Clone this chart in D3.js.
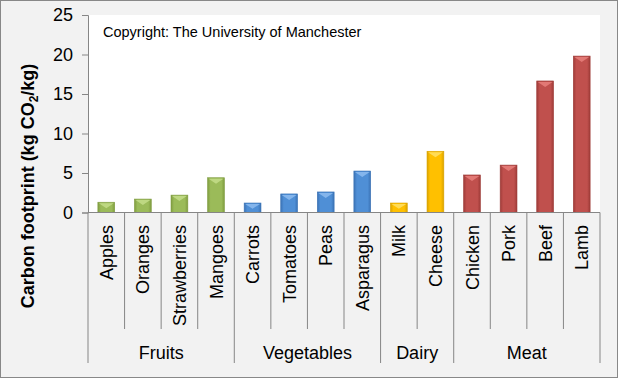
<!DOCTYPE html>
<html><head><meta charset="utf-8">
<script src="https://cdn.jsdelivr.net/npm/d3@7"></script>
<style>
html,body{margin:0;padding:0;background:#fff;}
svg{display:block;font-family:Arial,"Liberation Sans",sans-serif;}
</style></head>
<body>
<svg id="chart" width="618" height="378"></svg>
<script>
const categories = ["Apples","Oranges","Strawberries","Mangoes","Carrots","Tomatoes","Peas","Asparagus","Milk","Cheese","Chicken","Pork","Beef","Lamb"];
const values = [1.3, 1.7, 2.2, 4.4, 1.2, 2.35, 2.6, 5.25, 1.2, 7.75, 4.75, 6.0, 16.65, 19.8];
const groupOf = ["Fruits","Fruits","Fruits","Fruits","Vegetables","Vegetables","Vegetables","Vegetables","Dairy","Dairy","Meat","Meat","Meat","Meat"];
const groups = ["Fruits","Vegetables","Dairy","Meat"];
const groupColors = {Fruits:["#9bbb59","#7f9c3f","#c4dd8a"], Vegetables:["#4f8fd6","#3a72b5","#8dbcf0"], Dairy:["#ffc000","#d9a300","#ffe066"], Meat:["#c0504d","#9e3b38","#e8807d"]};
const yTicks = [0,5,10,15,20,25];

const svg = d3.select("#chart");
const W = 618, H = 378;
const L = 88, R = 600, T = 15, B = 212.5;

svg.append("rect").attr("x",0.5).attr("y",0.5).attr("width",W-1).attr("height",H-1)
  .attr("fill","#f2f2f2").attr("stroke","#888").attr("stroke-width",1);
svg.append("rect").attr("x",L).attr("y",T).attr("width",R-L).attr("height",B-T).attr("fill","#fff");

const x = d3.scaleBand().domain(categories).range([L,R]).paddingInner(0.54).paddingOuter(0.27);
const xb = d3.scaleBand().domain(categories).range([L,R]).padding(0);
const y = d3.scaleLinear().domain([0,25]).range([B,T]);

const defs = svg.append("defs");
groups.forEach((g,i)=>{
  const c = groupColors[g];
  const grad = defs.append("linearGradient").attr("id","g"+i).attr("x1","0").attr("x2","1").attr("y1","0").attr("y2","0");
  grad.append("stop").attr("offset","0%").attr("stop-color",c[1]);
  grad.append("stop").attr("offset","18%").attr("stop-color",c[0]);
  grad.append("stop").attr("offset","82%").attr("stop-color",c[0]);
  grad.append("stop").attr("offset","100%").attr("stop-color",c[1]);
});

const data = categories.map((c,i)=>({c, v:values[i], g:groupOf[i]}));
const bars = svg.append("g");
bars.selectAll("rect").data(data).join("rect")
  .attr("x",d=>x(d.c)).attr("y",d=>y(d.v)).attr("width",x.bandwidth()).attr("height",d=>y(0)-y(d.v))
  .attr("fill",d=>"url(#g"+groups.indexOf(d.g)+")").attr("stroke",d=>groupColors[d.g][1]).attr("stroke-width",0.6);
bars.selectAll("path").data(data).join("path")
  .attr("d",d=>{
    const x0 = x(d.c), w = x.bandwidth(), t = y(d.v);
    const h = Math.min(6, (y(0)-t)*0.6);
    return `M${x0+1},${t+1}L${x0+w-1},${t+1}L${x0+w/2},${t+h}Z`;
  })
  .attr("fill",d=>groupColors[d.g][2]).attr("opacity",0.85);

const yAxis = d3.axisLeft(y).tickValues(yTicks).tickSize(6).tickPadding(9).tickFormat(d3.format("d"));
const ya = svg.append("g").attr("transform",`translate(${L},0)`).call(yAxis);
ya.select(".domain").attr("stroke","#868686");
ya.selectAll(".tick line").attr("stroke","#868686");
ya.selectAll(".tick text").attr("font-size","18px").attr("fill","#000").attr("font-family","Arial, 'Liberation Sans', sans-serif");

svg.append("line").attr("x1",L).attr("x2",R).attr("y1",B).attr("y2",B).attr("stroke","#868686");

const cat = svg.append("g");
categories.forEach((c,i)=>{
  const isGroupEdge = i===0 || groupOf[i]!==groupOf[i-1];
  cat.append("line").attr("x1",xb(c)).attr("x2",xb(c)).attr("y1",B).attr("y2",isGroupEdge?363:329)
    .attr("stroke","#868686");
});
cat.append("line").attr("x1",R).attr("x2",R).attr("y1",B).attr("y2",363).attr("stroke","#868686");

cat.selectAll("text.cl").data(categories).join("text").attr("class","cl")
  .attr("transform",c=>`translate(${xb(c)+xb.bandwidth()/2+6.5},225) rotate(-90)`)
  .attr("text-anchor","end").attr("font-size","18px").attr("fill","#000").text(c=>c);

groups.forEach(g=>{
  const items = categories.filter((c,i)=>groupOf[i]===g);
  const x0 = xb(items[0]), x1 = xb(items[items.length-1])+xb.bandwidth();
  cat.append("text").attr("x",(x0+x1)/2).attr("y",359).attr("text-anchor","middle")
    .attr("font-size","18px").attr("fill","#000").text(g);
});

const yt = svg.append("text").attr("transform","translate(34,186) rotate(-90)")
  .attr("text-anchor","middle").attr("font-size","18px").attr("font-weight","bold").attr("fill","#000");
yt.append("tspan").text("Carbon footprint (kg CO");
yt.append("tspan").attr("font-size","12px").attr("dy","4").text("2");
yt.append("tspan").attr("dy","-4").text("/kg)");

svg.append("text").attr("x",103).attr("y",37).attr("font-size","14.5px").attr("fill","#000")
  .text("Copyright: The University of Manchester");
</script>
</body></html>
